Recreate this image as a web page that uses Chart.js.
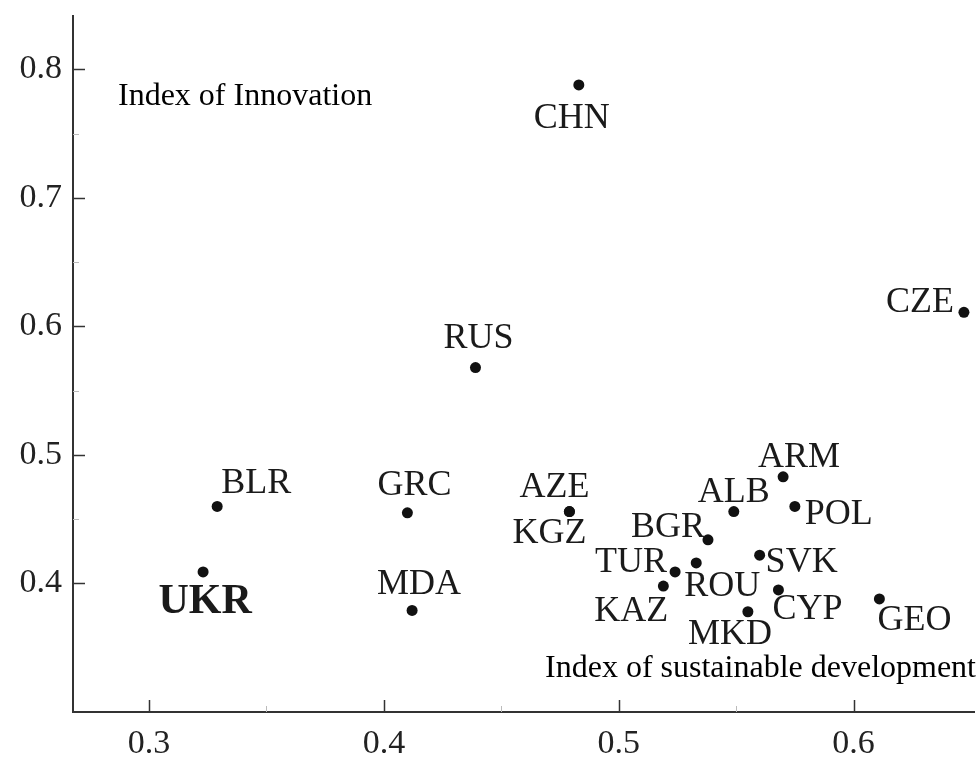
<!DOCTYPE html>
<html>
<head>
<meta charset="utf-8">
<script src="https://cdn.jsdelivr.net/npm/chart.js@4.4.1/dist/chart.umd.min.js"></script>
<style>
    html, body { margin: 0; padding: 0; background: #fff; }
    #wrap { width: 980px; height: 758px; }
</style>
</head>
<body>
<div id="wrap"><canvas id="chart1" width="980" height="758"></canvas></div>
<script>
// data
const countries = ['CHN', 'CZE', 'RUS', 'BLR', 'GRC', 'UKR', 'MDA', 'AZE', 'KGZ', 'ARM',
                   'ALB', 'POL', 'BGR', 'TUR', 'ROU', 'SVK', 'KAZ', 'CYP', 'MKD', 'GEO'];
const sustainIndex = [0.483, 0.647, 0.439, 0.329, 0.410, 0.323, 0.412, 0.479, 0.479, 0.570,
                      0.549, 0.575, 0.538, 0.524, 0.533, 0.560, 0.519, 0.568, 0.555, 0.611];
const innovIndex = [0.788, 0.611, 0.568, 0.460, 0.455, 0.409, 0.379, 0.456, 0.456, 0.483,
                    0.456, 0.460, 0.434, 0.409, 0.416, 0.422, 0.398, 0.395, 0.378, 0.388];
const xTickValues = [0.3, 0.4, 0.5, 0.6];
const yTickValues = [0.4, 0.5, 0.6, 0.7, 0.8];
const xMinorValues = [0.35, 0.45, 0.55];
const yMinorValues = [0.45, 0.55, 0.65, 0.75];
const xTitle = 'Index of sustainable development';
const yTitle = 'Index of Innovation';

// where each country name sits relative to its dot (label centre, px)
const labelOffset = {
    CHN: [-7, 34], CZE: [-44, -10], RUS: [3, -29], BLR: [39, -23], GRC: [7, -27],
    UKR: [2, 30], MDA: [7, -26], AZE: [-15, -24], KGZ: [-20, 22], ARM: [16, -19],
    ALB: [0, -19], POL: [44, 8], BGR: [-40, -12], TUR: [-44, -9], ROU: [26, 24],
    SVK: [42, 7], KAZ: [-32, 25], CYP: [29, 20], MKD: [-18, 23], GEO: [35, 22]
};
const boldLabels = ['UKR'];

const serif = '"Liberation Serif", "Times New Roman", serif';
const axisColor = '#333';

const points = countries.map((c, i) => ({ x: sustainIndex[i], y: innovIndex[i] }));

const labelPlugin = {
    id: 'countryLabels',
    afterDatasetsDraw(chart) {
        const ctx = chart.ctx;
        const meta = chart.getDatasetMeta(0);
        ctx.save();
        ctx.fillStyle = '#1a1a1a';
        ctx.textAlign = 'center';
        ctx.textBaseline = 'middle';
        meta.data.forEach((pt, i) => {
            const code = countries[i];
            const off = labelOffset[code] || [0, -25];
            if (boldLabels.includes(code)) {
                ctx.font = 'bold 42px ' + serif;
            } else {
                ctx.font = '36px ' + serif;
            }
            ctx.fillText(code, pt.x + off[0], pt.y + off[1]);
        });
        ctx.restore();
    }
};

const decorPlugin = {
    id: 'decor',
    afterDraw(chart) {
        const ctx = chart.ctx;
        const xs = chart.scales.x;
        const ys = chart.scales.y;
        const area = chart.chartArea;
        ctx.save();
        // inward tick marks
        ctx.strokeStyle = axisColor;
        ctx.lineWidth = 1.5;
        xTickValues.forEach(v => {
            const px = Math.round(xs.getPixelForValue(v)) + 0.5;
            ctx.beginPath();
            ctx.moveTo(px, area.bottom);
            ctx.lineTo(px, area.bottom - 12);
            ctx.stroke();
        });
        yTickValues.forEach(v => {
            const py = Math.round(ys.getPixelForValue(v)) + 0.5;
            ctx.beginPath();
            ctx.moveTo(area.left, py);
            ctx.lineTo(area.left + 12, py);
            ctx.stroke();
        });
        ctx.strokeStyle = '#bbb';
        ctx.lineWidth = 1;
        xMinorValues.forEach(v => {
            const px = Math.round(xs.getPixelForValue(v)) + 0.5;
            ctx.beginPath();
            ctx.moveTo(px, area.bottom);
            ctx.lineTo(px, area.bottom - 6);
            ctx.stroke();
        });
        yMinorValues.forEach(v => {
            const py = Math.round(ys.getPixelForValue(v)) + 0.5;
            ctx.beginPath();
            ctx.moveTo(area.left, py);
            ctx.lineTo(area.left + 6, py);
            ctx.stroke();
        });
        // axis titles sit inside the plot
        ctx.fillStyle = '#000';
        ctx.font = '32px ' + serif;
        ctx.textBaseline = 'middle';
        ctx.textAlign = 'left';
        ctx.fillText(yTitle, 118, 97);
        ctx.textAlign = 'right';
        ctx.fillText(xTitle, 976, 669);
        ctx.restore();
    }
};

const ctx1 = document.getElementById('chart1').getContext('2d');
const chart1 = new Chart(ctx1, {
    type: 'scatter',
    data: {
        datasets: [{
            data: points,
            pointRadius: 5.5,
            pointHoverRadius: 5.5,
            pointBackgroundColor: '#111',
            pointBorderWidth: 0,
            clip: false
        }]
    },
    options: {
        responsive: false,
        devicePixelRatio: 1,
        animation: false,
        layout: {
            padding: { top: 16, right: 0, left: 0, bottom: 0 }
        },
        plugins: {
            legend: { display: false },
            tooltip: { enabled: false }
        },
        scales: {
            x: {
                type: 'linear',
                min: 0.2676,
                max: 0.6515,
                grid: { display: false, drawTicks: false },
                border: { display: true, color: axisColor, width: 2 },
                afterBuildTicks: s => { s.ticks = xTickValues.map(v => ({ value: v })); },
                afterFit: s => { s.height = 46; s.paddingLeft = 0; s.paddingRight = 0; },
                ticks: {
                    padding: 12,
                    color: '#222',
                    font: { family: serif, size: 34 },
                    callback: v => v.toFixed(1)
                }
            },
            y: {
                type: 'linear',
                min: 0.3,
                max: 0.8416,
                grid: { display: false, drawTicks: false },
                border: { display: true, color: axisColor, width: 2 },
                afterBuildTicks: s => { s.ticks = yTickValues.map(v => ({ value: v })); },
                afterFit: s => { s.width = 73; s.paddingTop = 0; s.paddingBottom = 0; },
                ticks: {
                    padding: 11,
                    color: '#222',
                    font: { family: serif, size: 34 },
                    callback: v => v.toFixed(1)
                }
            }
        }
    },
    plugins: [labelPlugin, decorPlugin]
});
</script>
</body>
</html>
